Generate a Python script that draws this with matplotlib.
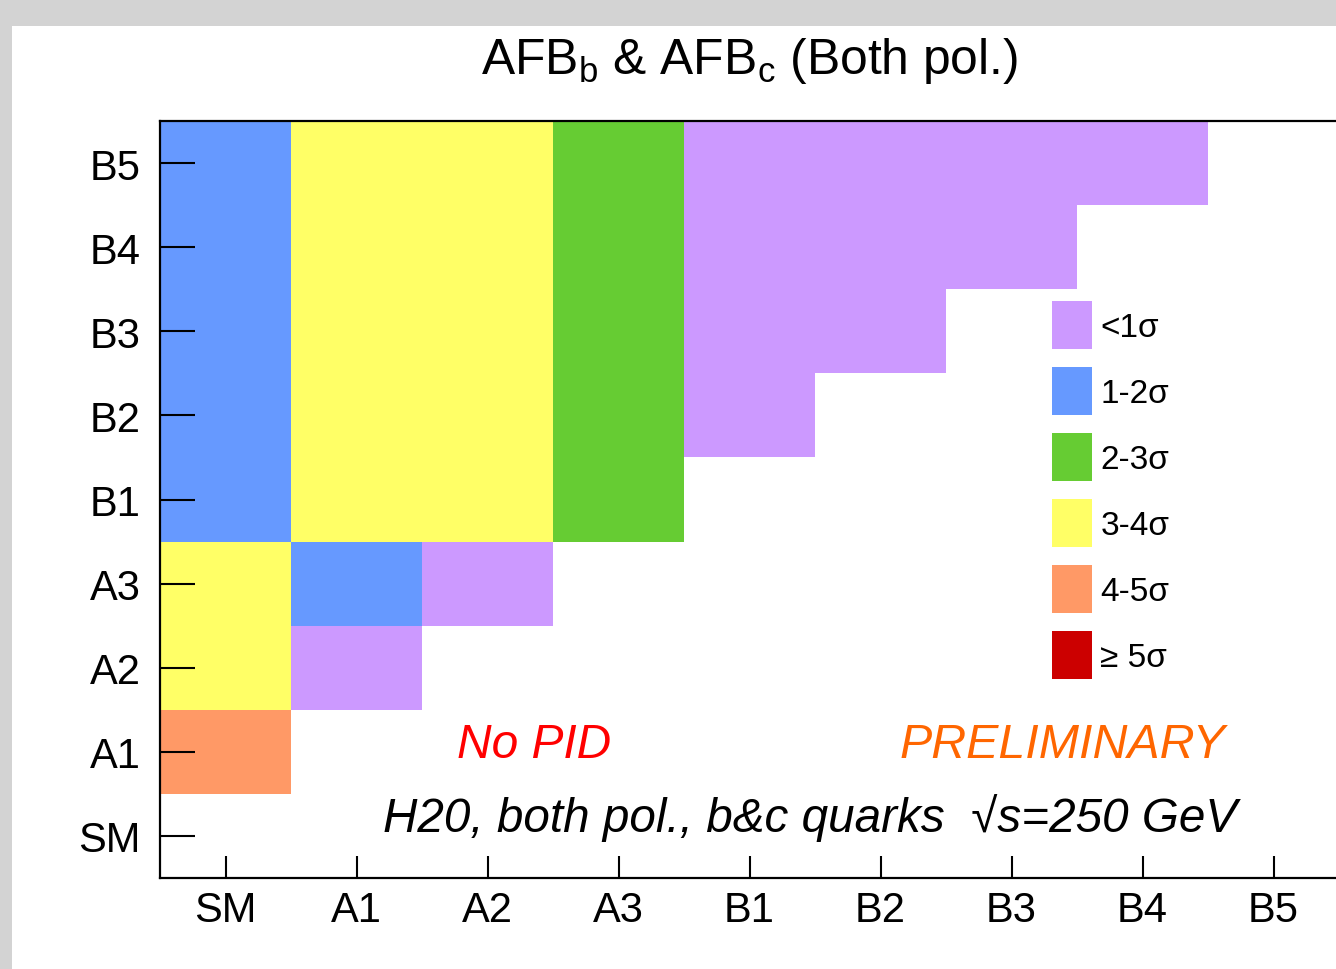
import numpy as np
import matplotlib.pyplot as plt
from matplotlib.colors import ListedColormap, BoundaryNorm
from matplotlib.patches import Patch, Rectangle

plt.rcParams['font.family'] = ['Liberation Sans', 'DejaVu Sans']
plt.rcParams['mathtext.fontset'] = 'custom'
plt.rcParams['mathtext.rm'] = 'Liberation Sans'
plt.rcParams['mathtext.it'] = 'Liberation Sans:italic'

models = ['SM', 'A1', 'A2', 'A3', 'B1', 'B2', 'B3', 'B4', 'B5']

# significance class per (row model, column model); -1 = no entry
# 0: <1s, 1: 1-2s, 2: 2-3s, 3: 3-4s, 4: 4-5s, 5: >=5s
sig_SM = [-1, -1, -1, -1, -1, -1, -1, -1, -1]
sig_A1 = [4, -1, -1, -1, -1, -1, -1, -1, -1]
sig_A2 = [3, 0, -1, -1, -1, -1, -1, -1, -1]
sig_A3 = [3, 1, 0, -1, -1, -1, -1, -1, -1]
sig_B1 = [1, 3, 3, 2, -1, -1, -1, -1, -1]
sig_B2 = [1, 3, 3, 2, 0, -1, -1, -1, -1]
sig_B3 = [1, 3, 3, 2, 0, 0, -1, -1, -1]
sig_B4 = [1, 3, 3, 2, 0, 0, 0, -1, -1]
sig_B5 = [1, 3, 3, 2, 0, 0, 0, 0, -1]

level_labels = ['<1σ', '1-2σ', '2-3σ', '3-4σ', '4-5σ', '≥ 5σ']
level_colors = ['#cc99ff', '#6699ff', '#66cc33', '#ffff66', '#ff9966', '#cc0000']

grid = np.array([sig_SM, sig_A1, sig_A2, sig_A3, sig_B1,
                 sig_B2, sig_B3, sig_B4, sig_B5], dtype=float)
grid[grid < 0] = np.nan
grid = np.ma.masked_invalid(grid)

W, H = 1336, 970
fig = plt.figure(figsize=(W / 100, H / 100), dpi=100, facecolor='#d3d3d3')
fig.patches.append(Rectangle((12 / W, 0), 1 - 12 / W, (H - 27) / H,
                             transform=fig.transFigure, facecolor='white',
                             edgecolor='none', zorder=-10))

ax = fig.add_axes([160 / W, (H - 879) / H, (1339 - 160) / W, (879 - 122) / H])
ax.set_facecolor('white')

cmap = ListedColormap(level_colors)
norm = BoundaryNorm(np.arange(-0.5, 6.5, 1), cmap.N)
edges = np.arange(-0.5, len(models), 1)
ax.pcolormesh(edges, edges, grid, cmap=cmap, norm=norm, antialiased=False)

ax.set_xlim(-0.5, 8.5)
ax.set_ylim(-0.5, 8.5)
ax.set_xticks(range(len(models)))
ax.set_yticks(range(len(models)))
ax.set_xticklabels(models)
ax.set_yticklabels(models)
ax.tick_params(axis='both', direction='in', width=1.5, labelsize=30, colors='black')
ax.tick_params(axis='y', length=25, pad=14)
ax.tick_params(axis='x', length=16, pad=9)
for side in ['left', 'bottom', 'top', 'right']:
    ax.spines[side].set_linewidth(1.6)
    ax.spines[side].set_zorder(5)

handles = [Patch(facecolor=c, edgecolor='none') for c in level_colors]
ax.legend(handles, level_labels, loc='upper left',
          bbox_to_anchor=(1052 / W, (H - 302) / H), bbox_transform=fig.transFigure,
          frameon=False, fontsize=24, borderpad=0, borderaxespad=0,
          handlelength=1.2, handleheight=1.84, handletextpad=0.25,
          labelspacing=0.54)

fig.text(750 / W, (H - 74) / H, r'AFB$_\mathrm{b}$ & AFB$_\mathrm{c}$ (Both pol.)',
         ha='center', va='baseline', fontsize=35.8)
fig.text(457 / W, (H - 758) / H, 'No PID', color='#ff0000', style='italic',
         ha='left', va='baseline', fontsize=34.5)
fig.text(900 / W, (H - 758) / H, 'PRELIMINARY', color='#ff6600', style='italic',
         ha='left', va='baseline', fontsize=34.8)
fig.text(383 / W, (H - 832) / H, 'H20, both pol., b&c quarks  √s=250 GeV',
         style='italic', ha='left', va='baseline', fontsize=34.3)

fig.savefig('out.png', dpi=100, facecolor=fig.get_facecolor())
